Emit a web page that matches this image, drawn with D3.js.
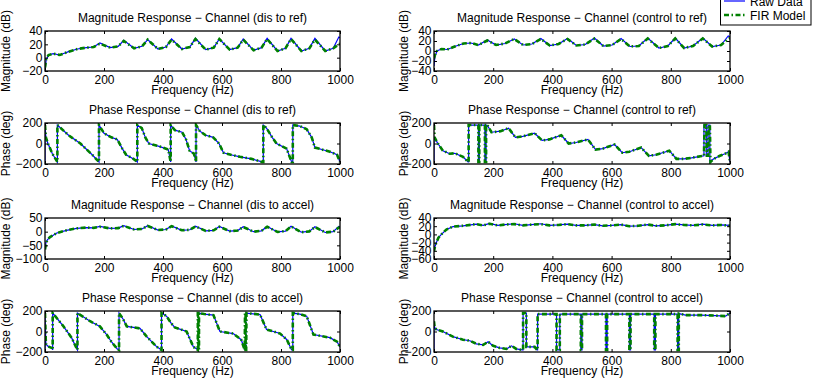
<!DOCTYPE html>
<html>
<head>
<meta charset="utf-8">
<script src="https://cdn.jsdelivr.net/npm/d3@7"></script>
<style>
  body { margin: 0; background: #fff; }
  text { font-family: "Liberation Sans", Arial, sans-serif; fill: #000; }
</style>
</head>
<body>
<svg id="chart" width="816" height="390"></svg>
<script>
// ---- data: [frequency (Hz), value] ----
const xTicks = [0, 200, 400, 600, 800, 1000];
const seriesNames = ["Raw Data", "FIR Model"];

// magnitude, dis -> ref (dB)
const magDisRefRaw = [[0,-20],[4,-3],[12,4],[28,6],[50,4],[80,9],[110,13],[140,15],[165,16],[186,22],[221,15],[248,17],[267,26],[302,14],[329,17],[348,27],[383,13],[410,16],[429,28],[464,13],[491,16],[510,29],[545,12],[572,15],[591,28],[626,12],[653,15],[672,28],[707,11],[734,15],[753,29],[788,10],[815,14],[834,29],[869,10],[896,14],[915,29],[950,10],[977,14],[996,31],[1000,30]];
const magDisRefFir = [[0,-15],[4,-2],[12,4],[28,6],[50,4],[80,9],[110,13],[140,15],[165,16],[186,21],[221,15],[248,17],[267,25],[302,14],[329,17],[348,27],[383,13],[410,16],[429,27],[464,13],[491,16],[510,28],[545,12],[572,15],[591,28],[626,12],[653,15],[672,27],[707,11],[734,15],[753,28],[788,10],[815,14],[834,28],[869,10],[896,14],[915,27],[950,10],[977,14],[996,20],[1000,21]];

// magnitude, control -> ref (dB)
const magCtlRefRaw = [[0,-30],[3,-12],[10,0],[25,4],[45,3],[70,9],[100,15],[125,16],[150,12],[180,22],[210,12],[240,15],[271,24],[301,12],[331,14],[361,25],[391,11],[421,14],[451,25],[481,11],[511,13],[542,26],[572,10],[602,12],[632,25],[662,9],[692,10],[722,26],[760,6],[790,10],[815,26],[845,6],[875,10],[908,26],[940,9],[970,12],[994,30],[1000,28]];
const magCtlRefFir = [[0,-15],[3,-8],[10,0],[25,4],[45,3],[70,9],[100,15],[125,16],[150,12],[180,21],[210,12],[240,15],[271,24],[301,12],[331,14],[361,24],[391,11],[421,14],[451,24],[481,11],[511,13],[542,25],[572,10],[602,12],[632,24],[662,9],[692,10],[722,25],[760,6],[790,10],[815,25],[845,6],[875,10],[908,25],[940,9],[970,12],[994,24],[1000,26]];

// phase, dis -> ref (deg)
const phDisRefRaw = [[0,-180],[0,180],[3,60],[10,0],[25,-100],[42,-180],[42,180],[80,80],[120,0],[160,-110],[183,-180],[183,180],[200,100],[225,60],[245,40],[262,-50],[275,-110],[300,-150],[313,-180],[313,180],[328,150],[340,60],[352,0],[390,-30],[418,-60],[426,-180],[426,180],[440,130],[465,110],[478,40],[490,-70],[505,-100],[512,-180],[512,180],[525,120],[545,80],[570,60],[590,0],[605,-90],[630,-110],[661,-130],[700,-150],[736,-180],[740,-180],[740,180],[751,150],[770,60],[785,0],[819,-50],[836,-180],[840,-180],[840,180],[864,170],[887,140],[904,60],[915,-40],[966,-80],[990,-110],[1000,-180]];
const phDisRefFir = [[0,180],[3,60],[10,0],[25,-100],[42,-180],[42,180],[80,80],[120,0],[160,-110],[183,-180],[183,180],[200,100],[225,60],[245,40],[262,-50],[275,-110],[300,-150],[313,-180],[313,180],[328,150],[340,60],[352,0],[390,-30],[418,-60],[426,-180],[426,180],[440,130],[465,110],[478,40],[490,-70],[505,-100],[512,-180],[512,180],[525,120],[545,80],[570,60],[590,0],[605,-90],[630,-110],[661,-130],[700,-150],[736,-180],[740,-180],[740,180],[751,150],[770,60],[785,0],[819,-50],[836,-180],[840,-180],[840,180],[864,170],[887,140],[904,60],[915,-40],[966,-80],[990,-110],[1000,-180]];

// phase, control -> ref (deg)
const phCtlRefRaw = [[0,-180],[0,60],[3,50],[13,0],[30,-70],[53,-100],[70,-95],[98,-130],[115,-180],[117,-180],[117,180],[150,180],[150,-180],[153,-180],[153,180],[172,180],[172,-180],[176,-180],[176,180],[182,170],[194,110],[225,120],[252,150],[275,60],[300,70],[340,100],[365,30],[390,40],[430,80],[455,0],[480,10],[520,40],[546,-60],[570,-50],[610,-10],[636,-90],[660,-80],[700,-40],[726,-120],[750,-110],[795,-70],[819,-150],[845,-150],[870,-140],[900,-125],[912,-120],[912,180],[920,180],[920,-120],[926,-120],[926,180],[932,180],[932,-180],[945,-150],[966,-120],[983,-100],[995,-80],[1000,-180]];
const phCtlRefFir = [[0,180],[2,60],[13,0],[30,-70],[53,-100],[70,-95],[98,-130],[115,-180],[117,-180],[117,180],[150,180],[150,-180],[153,-180],[153,180],[172,180],[172,-180],[176,-180],[176,180],[182,170],[194,110],[225,120],[252,150],[275,60],[300,70],[340,100],[365,30],[390,40],[430,80],[455,0],[480,10],[520,40],[546,-60],[570,-50],[610,-10],[636,-90],[660,-80],[700,-40],[726,-120],[750,-110],[795,-70],[819,-150],[845,-150],[870,-140],[900,-125],[912,-120],[914,180],[920,180],[922,-120],[926,-120],[928,180],[932,180],[934,-180],[945,-150],[966,-120],[983,-100],[995,-80],[1000,-180]];

// magnitude, dis -> accel (dB)
const magDisAccRaw = [[0,-60],[3,-40],[8,-30],[17,-20],[40,-5],[73,5],[107,12],[141,15],[165,14],[186,19],[221,12],[248,13],[267,22],[302,8],[329,10],[348,22],[383,6],[410,8],[429,21],[464,5],[491,7],[510,20],[545,3],[572,5],[591,19],[626,2],[653,4],[672,18],[707,0],[734,3],[753,19],[788,-1],[815,2],[834,20],[869,-2],[896,1],[915,18],[950,-3],[977,0],[996,19],[1000,18]];
const magDisAccFir = [[0,-65],[3,-45],[8,-30],[17,-20],[40,-5],[73,5],[107,12],[141,15],[165,14],[186,18],[221,12],[248,13],[267,21],[302,8],[329,10],[348,21],[383,6],[410,8],[429,20],[464,5],[491,7],[510,19],[545,3],[572,5],[591,18],[626,2],[653,4],[672,17],[707,0],[734,3],[753,18],[788,-1],[815,2],[834,19],[869,-2],[896,1],[915,17],[950,-3],[977,0],[996,15],[1000,14]];

// magnitude, control -> accel (dB)
const magCtlAccRaw = [[0,-40],[3,-30],[8,-20],[15,-8],[25,0],[42,12],[64,19],[98,21],[143,25],[166,22],[188,27],[215,22],[240,24],[271,26],[300,22],[330,24],[361,26],[390,22],[420,23],[451,25],[480,22],[510,22],[542,24],[570,21],[600,22],[632,24],[660,20],[690,21],[722,24],[750,21],[780,22],[815,25],[845,23],[875,22],[908,25],[940,22],[970,23],[1000,22]];
const magCtlAccFir = [[0,-42],[3,-30],[8,-20],[15,-8],[25,0],[42,12],[64,19],[98,21],[143,25],[166,22],[188,26],[215,22],[240,24],[271,25],[300,22],[330,24],[361,25],[390,22],[420,23],[451,25],[480,22],[510,22],[542,24],[570,21],[600,22],[632,24],[660,20],[690,21],[722,24],[750,21],[780,22],[815,25],[845,23],[875,22],[908,24],[940,22],[970,23],[1000,21]];

// phase, dis -> accel (deg)
const phDisAccRaw = [[0,-180],[0,180],[3,-120],[8,-140],[14,-150],[24,-160],[26,-180],[26,180],[60,60],[90,-60],[108,-170],[110,-180],[110,180],[153,100],[186,50],[209,-30],[225,-100],[245,-170],[251,-180],[251,180],[265,120],[277,50],[322,30],[345,-50],[379,-150],[395,-180],[395,180],[412,150],[428,80],[440,40],[480,0],[503,-150],[520,-180],[520,180],[540,170],[571,160],[593,0],[638,-20],[665,-80],[678,-180],[681,-180],[681,180],[729,165],[751,20],[797,-20],[820,-80],[836,-180],[840,-180],[840,180],[864,170],[887,150],[910,-30],[966,-60],[990,-100],[1000,-150]];
const phDisAccFir = [[0,180],[3,-120],[8,-140],[14,-150],[24,-160],[26,-180],[26,180],[60,60],[90,-60],[108,-170],[110,-180],[110,180],[153,100],[186,50],[209,-30],[225,-100],[245,-170],[251,-180],[251,180],[265,120],[277,50],[322,30],[345,-50],[379,-150],[395,-180],[395,180],[412,150],[428,80],[440,40],[480,0],[503,-150],[518,-180],[518,180],[520,180],[520,-180],[522,-180],[522,180],[540,170],[571,160],[593,0],[638,-20],[665,-80],[677,-180],[678,180],[680,180],[680,-180],[682,-180],[683,180],[729,165],[751,20],[797,-20],[820,-80],[836,-180],[840,-180],[840,180],[864,170],[887,150],[910,-30],[966,-60],[990,-100],[1000,-150]];

// phase, control -> accel (deg)
const phCtlAccRaw = [[0,-180],[0,100],[2,40],[8,20],[30,0],[64,-50],[98,-80],[121,-90],[143,-120],[166,-130],[183,-100],[200,-140],[222,-160],[245,-170],[262,-140],[278,-170],[298,-180],[301,-180],[301,180],[312,180],[312,-150],[340,-150],[348,-180],[350,-180],[350,170],[414,170],[414,-180],[425,-180],[425,170],[496,170],[496,-180],[500,-180],[500,170],[581,170],[581,-180],[585,-180],[585,170],[660,170],[660,-180],[664,-180],[664,170],[744,170],[744,-180],[748,-180],[748,170],[823,170],[823,-180],[827,-180],[827,175],[850,160],[900,160],[950,155],[985,150],[1000,180]];
const phCtlAccFir = [[0,100],[2,40],[8,20],[30,0],[64,-50],[98,-80],[121,-90],[143,-120],[166,-130],[183,-100],[200,-140],[222,-160],[245,-170],[262,-140],[278,-170],[298,-180],[301,-180],[301,180],[312,180],[312,-150],[340,-150],[348,-180],[350,-180],[350,170],[414,170],[414,-180],[425,-180],[425,170],[496,170],[496,-180],[500,-180],[500,170],[581,170],[581,-180],[585,-180],[585,170],[660,170],[660,-180],[664,-180],[664,170],[744,170],[744,-180],[748,-180],[748,170],[823,170],[823,-180],[827,-180],[827,175],[850,160],[900,160],[950,155],[985,150],[1000,180]];

// ---- layout ----
const colX = [[45, 340], [434, 730]];
const rowY = [[31, 71], [123, 164], [218, 259], [311, 352]];

const panels = [
    { row: 0, col: 0, title: "Magnitude Response \u2212 Channel (dis to ref)", ylabel: "Magnitude (dB)", y: [-20, 40], yTicks: [-20, 0, 20, 40], raw: magDisRefRaw, fir: magDisRefFir },
    { row: 0, col: 1, title: "Magnitude Response \u2212 Channel (control to ref)", ylabel: "Magnitude (dB)", y: [-40, 40], yTicks: [-40, -20, 0, 20, 40], raw: magCtlRefRaw, fir: magCtlRefFir },
    { row: 1, col: 0, title: "Phase Response \u2212 Channel (dis to ref)", ylabel: "Phase (deg)", y: [-200, 200], yTicks: [-200, 0, 200], raw: phDisRefRaw, fir: phDisRefFir },
    { row: 1, col: 1, title: "Phase Response \u2212 Channel (control to ref)", ylabel: "Phase (deg)", y: [-200, 200], yTicks: [-200, 0, 200], raw: phCtlRefRaw, fir: phCtlRefFir },
    { row: 2, col: 0, title: "Magnitude Response \u2212 Channel (dis to accel)", ylabel: "Magnitude (dB)", y: [-100, 50], yTicks: [-100, -50, 0, 50], raw: magDisAccRaw, fir: magDisAccFir },
    { row: 2, col: 1, title: "Magnitude Response \u2212 Channel (control to accel)", ylabel: "Magnitude (dB)", y: [-60, 40], yTicks: [-60, -40, -20, 0, 20, 40], raw: magCtlAccRaw, fir: magCtlAccFir },
    { row: 3, col: 0, title: "Phase Response \u2212 Channel (dis to accel)", ylabel: "Phase (deg)", y: [-200, 200], yTicks: [-200, 0, 200], raw: phDisAccRaw, fir: phDisAccFir },
    { row: 3, col: 1, title: "Phase Response \u2212 Channel (control to accel)", ylabel: "Phase (deg)", y: [-200, 200], yTicks: [-200, 0, 200], raw: phCtlAccRaw, fir: phCtlAccFir }
];

const rawColor = "#0000ff";
const firColor = "#008000";
const firDash = "5,2.5,1.5,2.5";
const fontSize = 12;
const tickLen = 3;

const svg = d3.select("#chart");

/**
 * Draws one subplot: box, inner ticks, labels and the two curves
 */
function drawPanel(p, i) {
    let [x0, x1] = colX[p.col];
    let [y0, y1] = rowY[p.row];
    let x = d3.scaleLinear().domain([0, 1000]).range([x0, x1]);
    let y = d3.scaleLinear().domain(p.y).range([y1, y0]);

    let g = svg.append("g");

    g.append("clipPath").attr("id", "clip" + i)
        .append("rect").attr("x", x0).attr("y", y0).attr("width", x1 - x0).attr("height", y1 - y0);

    let line = d3.line().x(d => x(d[0])).y(d => y(d[1]));
    let plot = g.append("g").attr("clip-path", "url(#clip" + i + ")");
    plot.append("path").attr("d", line(p.raw)).attr("fill", "none")
        .attr("stroke", rawColor).attr("stroke-width", 1.2);
    plot.append("path").attr("d", line(p.fir)).attr("fill", "none")
        .attr("stroke", firColor).attr("stroke-width", 2.6).attr("stroke-dasharray", firDash);

    // axes, ticks pointing inward on all four sides
    let bottom = d3.axisBottom(x).tickValues(xTicks).tickSizeInner(-tickLen).tickSizeOuter(0).tickPadding(4.5).tickFormat(d3.format("d"));
    let top = d3.axisTop(x).tickValues(xTicks).tickSizeInner(-tickLen).tickSizeOuter(0).tickFormat("");
    let left = d3.axisLeft(y).tickValues(p.yTicks).tickSizeInner(-tickLen).tickSizeOuter(0).tickPadding(2.5);
    let right = d3.axisRight(y).tickValues(p.yTicks).tickSizeInner(-tickLen).tickSizeOuter(0).tickFormat("");

    let gb = g.append("g").attr("transform", "translate(0," + y1 + ")").call(bottom);
    g.append("g").attr("transform", "translate(0," + y0 + ")").call(top);
    let gl = g.append("g").attr("transform", "translate(" + x0 + ",0)").call(left);
    g.append("g").attr("transform", "translate(" + x1 + ",0)").call(right);

    g.selectAll(".domain").remove();
    g.selectAll(".tick line").attr("stroke", "#000").attr("stroke-width", 1);
    gb.selectAll("text").attr("font-size", fontSize).attr("font-family", "Liberation Sans, Arial, sans-serif").attr("fill", "#000");
    gl.selectAll("text").attr("font-size", fontSize).attr("font-family", "Liberation Sans, Arial, sans-serif").attr("fill", "#000");

    g.append("rect").attr("x", x0).attr("y", y0).attr("width", x1 - x0).attr("height", y1 - y0)
        .attr("fill", "none").attr("stroke", "#000").attr("stroke-width", 1.3);

    g.append("text").attr("x", (x0 + x1) / 2).attr("y", y0 - 9.5).attr("text-anchor", "middle")
        .attr("font-size", fontSize).text(p.title);
    g.append("text").attr("x", (x0 + x1) / 2).attr("y", y1 + 23).attr("text-anchor", "middle")
        .attr("font-size", fontSize).text("Frequency (Hz)");
    let lx = p.col == 0 ? 10 : 408;
    g.append("text").attr("transform", "translate(" + lx + "," + (y0 + y1) / 2 + ") rotate(-90)")
        .attr("text-anchor", "middle").attr("font-size", fontSize).text(p.ylabel);
}

panels.forEach(drawPanel);

// legend (top right, partly outside the window like the original)
let legend = svg.append("g");
legend.append("rect").attr("x", 720.5).attr("y", -3).attr("width", 90.5).attr("height", 28)
    .attr("fill", "#fff").attr("stroke", "#000").attr("stroke-width", 1);
let legendY = [1, 15];
seriesNames.forEach((name, k) => {
    legend.append("line").attr("x1", 724).attr("x2", 745).attr("y1", legendY[k]).attr("y2", legendY[k])
        .attr("stroke", k == 0 ? rawColor : firColor)
        .attr("stroke-width", k == 0 ? 1.2 : 2.6)
        .attr("stroke-dasharray", k == 0 ? null : firDash);
    legend.append("text").attr("x", 750).attr("y", legendY[k] + 4.5).attr("font-size", fontSize).text(name);
});
</script>
</body>
</html>
